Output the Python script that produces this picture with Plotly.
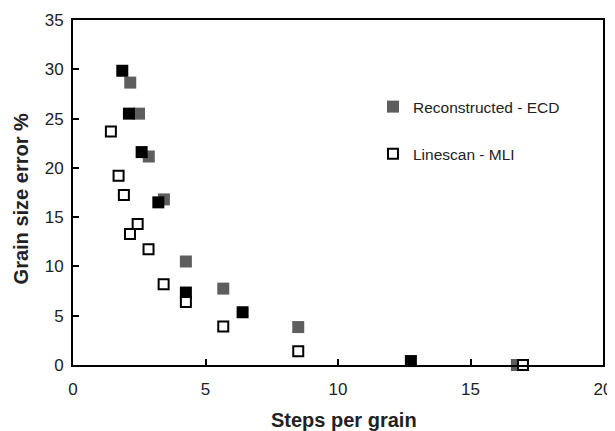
import plotly.graph_objects as go

# Reconstructed - ECD (grey filled squares)
ecd_x = [2.16, 2.49, 2.86, 3.43, 4.26, 5.67, 8.50, 16.75]
ecd_y = [28.65, 25.5, 21.15, 16.8, 10.5, 7.75, 3.85, 0.0]

# Unlabelled black filled squares
blk_x = [1.86, 2.11, 2.59, 3.22, 4.26, 6.40, 12.75]
blk_y = [29.85, 25.5, 21.6, 16.5, 7.35, 5.35, 0.4]

# Linescan - MLI (open squares)
mli_x = [1.43, 1.72, 1.92, 2.15, 2.44, 2.85, 3.42, 4.26, 5.67, 8.50, 16.98]
mli_y = [23.7, 19.2, 17.25, 13.3, 14.3, 11.75, 8.2, 6.4, 3.9, 1.4, 0.0]

x_ticks = [0, 5, 10, 15, 20]
y_ticks = [0, 5, 10, 15, 20, 25, 30, 35]

x_title = "Steps per grain"
y_title = "Grain size error %"

FONT = "Liberation Sans, Arial, sans-serif"
TXT = "#222222"

fig = go.Figure()
fig.add_trace(go.Scatter(
    x=ecd_x, y=ecd_y, mode="markers", name="Reconstructed - ECD",
    legendgroup="a",
    marker=dict(symbol="square", size=12, color="#5e5e5e", line=dict(width=0)),
    cliponaxis=False,
))
fig.add_trace(go.Scatter(
    x=blk_x, y=blk_y, mode="markers", name="black", showlegend=False,
    marker=dict(symbol="square", size=12, color="#000000", line=dict(width=0)),
    cliponaxis=False,
))
fig.add_trace(go.Scatter(
    x=mli_x, y=mli_y, mode="markers", name="Linescan - MLI",
    legendgroup="b",
    marker=dict(symbol="square", size=10, color="#ffffff", line=dict(width=2, color="#000000")),
    cliponaxis=False,
))

axis_common = dict(
    showgrid=False, zeroline=False, showline=True, linecolor="#000000", linewidth=2,
    mirror=True, ticks="inside", ticklen=6, tickwidth=2, tickcolor="#000000",
    tickfont=dict(family=FONT, size=17, color=TXT), automargin=False,
)

# The page body has an 8px margin, so the figure is sized/margined to compensate.
fig.update_layout(
    width=607, height=423,
    margin=dict(l=65, r=12, t=12, b=66),
    paper_bgcolor="#ffffff", plot_bgcolor="#ffffff",
    font=dict(family=FONT, color=TXT),
    xaxis=dict(range=[0, 20], tickvals=x_ticks, ticklabelstandoff=8, **axis_common),
    yaxis=dict(range=[0, 35], tickvals=y_ticks, ticklabelstandoff=4, **axis_common),
    legend=dict(x=0.566, y=0.797, xanchor="left", yanchor="top",
                traceorder="grouped", tracegroupgap=24,
                font=dict(family=FONT, size=15.5, color=TXT),
                bgcolor="rgba(0,0,0,0)", itemwidth=30),
    showlegend=True,
    annotations=[
        dict(text="<b>" + x_title + "</b>", xref="paper", yref="paper",
             x=0.511, y=0, yshift=-55, xanchor="center", yanchor="middle",
             showarrow=False, font=dict(family=FONT, size=20, color=TXT)),
        dict(text="<b>" + y_title + "</b>", xref="paper", yref="paper",
             x=0, xshift=-52, y=0.48, xanchor="center", yanchor="middle",
             textangle=-90, showarrow=False, font=dict(family=FONT, size=20, color=TXT)),
    ],
)

fig.write_html("out.html")
